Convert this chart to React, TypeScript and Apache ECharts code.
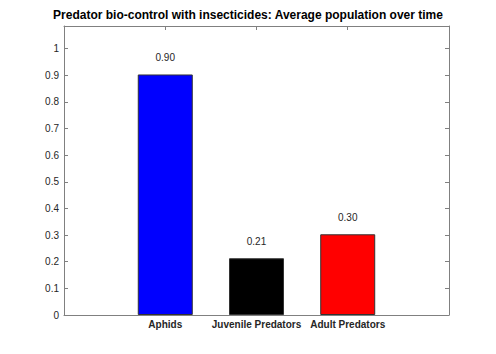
import React, { useEffect, useRef } from "react";
import * as echarts from "echarts";

const categories = ["Aphids", "Juvenile Predators", "Adult Predators"];
const positions = [1, 2, 3];
const values = [0.903, 0.213, 0.303];
const barColors = ["#0000ff", "#000000", "#ff0000"];
const title = "Predator bio-control with insecticides: Average population over time";

const FONT = "'Liberation Sans', Arial, Helvetica, sans-serif";
const AXIS = "#808080";

export default function App() {
  const ref = useRef<HTMLDivElement>(null);
  useEffect(() => {
    if (!ref.current) return;
    const chart = echarts.init(ref.current, undefined, { renderer: "svg" });
    const yFmt = (v: number) => {
      const r = Math.round(v * 10) / 10;
      if (r === 0) return "0";
      if (r === 1) return "1";
      return r.toFixed(1);
    };
    const line = { show: true, onZero: false, lineStyle: { color: AXIS, width: 1 } };
    chart.setOption({
      animation: false,
      backgroundColor: "#ffffff",
      graphic: [
        {
          type: "text",
          x: 248,
          y: 15,
          style: {
            text: title,
            fontFamily: FONT,
            fontSize: 12,
            fontWeight: "bold",
            fill: "#000",
            align: "center",
            verticalAlign: "middle",
          },
        },
      ],
      grid: { left: 64, top: 26, width: 385, height: 289 },
      xAxis: [
        {
          type: "value",
          min: -0.11,
          max: 4.11,
          position: "bottom",
          splitLine: { show: false },
          axisLine: line,
          axisTick: { show: true, inside: true, length: 4, customValues: positions, lineStyle: { color: AXIS } },
          axisLabel: {
            show: true,
            customValues: positions,
            formatter: (v: number) => categories[positions.indexOf(Math.round(v))] ?? "",
            fontFamily: FONT,
            fontSize: 10,
            fontWeight: "bold",
            color: "#262626",
            margin: 4,
          },
        },
        {
          type: "value",
          min: -0.11,
          max: 4.11,
          position: "top",
          splitLine: { show: false },
          axisLine: line,
          axisTick: { show: true, inside: true, length: 4, customValues: positions, lineStyle: { color: AXIS } },
          axisLabel: { show: false },
        },
      ],
      yAxis: [
        {
          type: "value",
          min: 0,
          max: 1.085,
          interval: 0.1,
          position: "left",
          splitLine: { show: false },
          axisLine: line,
          axisTick: { show: true, inside: true, length: 4, lineStyle: { color: AXIS } },
          axisLabel: {
            formatter: yFmt,
            showMaxLabel: false,
            fontFamily: FONT,
            fontSize: 10,
            color: "#262626",
            margin: 5,
          },
        },
        {
          type: "value",
          min: 0,
          max: 1.085,
          interval: 0.1,
          position: "right",
          splitLine: { show: false },
          axisLine: line,
          axisTick: { show: true, inside: true, length: 4, lineStyle: { color: AXIS } },
          axisLabel: { show: false },
        },
      ],
      series: [
        {
          type: "bar",
          xAxisIndex: 0,
          yAxisIndex: 0,
          barWidth: 55,
          data: values.map((v, i) => ({
            value: [positions[i], v],
            itemStyle: { color: barColors[i], borderColor: "#333333", borderWidth: 1 },
          })),
          label: {
            show: true,
            position: "top",
            distance: 12,
            formatter: (p: any) => (p.value[1] as number).toFixed(2),
            fontFamily: FONT,
            fontSize: 10,
            color: "#262626",
          },
        },
      ],
    });
    return () => chart.dispose();
  }, []);
  return (
    <div
      ref={ref}
      style={{ position: "absolute", left: 0, top: 0, width: 496, height: 354 }}
    />
  );
}
